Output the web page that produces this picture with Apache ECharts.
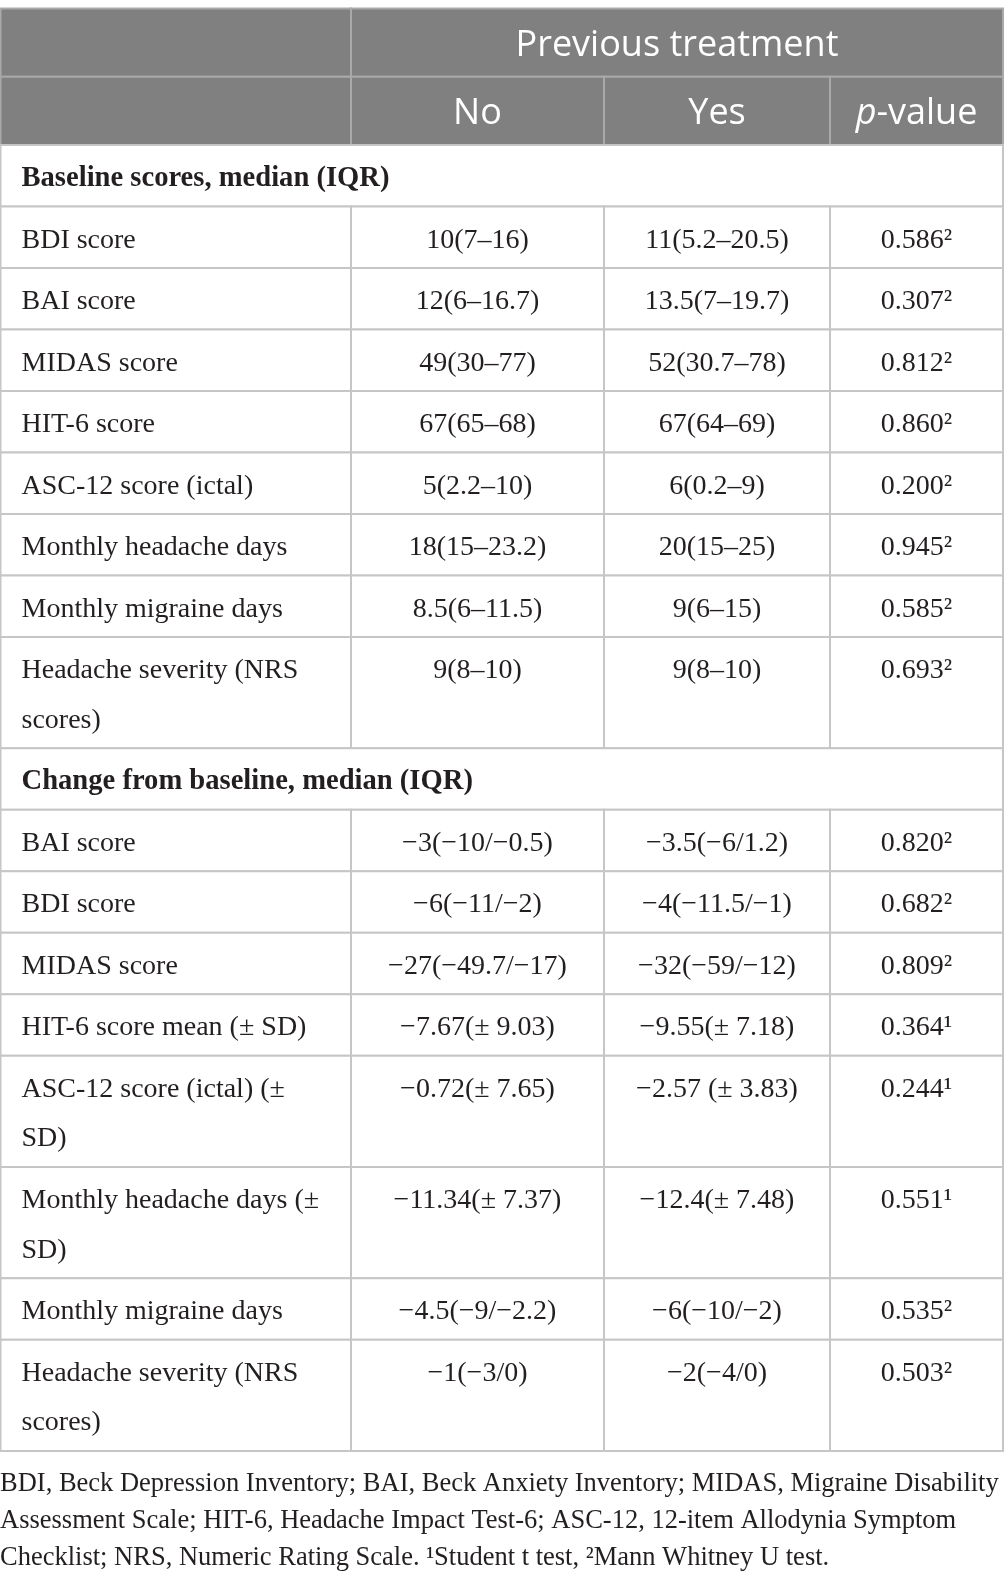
<!DOCTYPE html>
<html>
<head>
<meta charset="utf-8">
<script src="https://cdn.jsdelivr.net/npm/echarts@6/dist/echarts.min.js"></script>
<style>
  html, body { margin: 0; padding: 0; background: #fff; }
  #main { width: 1004px; height: 1585px; }
</style>
</head>
<body>
<div id="main"></div>
<script>
// table content
var groupHeader = 'Previous treatment';
var colHeaders = ['No', 'Yes', 'p-value'];
var sections = ['Baseline scores, median (IQR)', 'Change from baseline, median (IQR)'];

var baselineLabels = ['BDI score', 'BAI score', 'MIDAS score', 'HIT-6 score', 'ASC-12 score (ictal)',
  'Monthly headache days', 'Monthly migraine days', 'Headache severity (NRS\nscores)'];
var baselineNo = ['10(7–16)', '12(6–16.7)', '49(30–77)', '67(65–68)', '5(2.2–10)',
  '18(15–23.2)', '8.5(6–11.5)', '9(8–10)'];
var baselineYes = ['11(5.2–20.5)', '13.5(7–19.7)', '52(30.7–78)', '67(64–69)', '6(0.2–9)',
  '20(15–25)', '9(6–15)', '9(8–10)'];
var baselineP = ['0.586²', '0.307²', '0.812²', '0.860²', '0.200²', '0.945²', '0.585²', '0.693²'];

var changeLabels = ['BAI score', 'BDI score', 'MIDAS score', 'HIT-6 score mean (± SD)',
  'ASC-12 score (ictal) (±\nSD)', 'Monthly headache days (±\nSD)', 'Monthly migraine days',
  'Headache severity (NRS\nscores)'];
var changeNo = ['−3(−10/−0.5)', '−6(−11/−2)', '−27(−49.7/−17)', '−7.67(± 9.03)', '−0.72(± 7.65)',
  '−11.34(± 7.37)', '−4.5(−9/−2.2)', '−1(−3/0)'];
var changeYes = ['−3.5(−6/1.2)', '−4(−11.5/−1)', '−32(−59/−12)', '−9.55(± 7.18)', '−2.57 (± 3.83)',
  '−12.4(± 7.48)', '−6(−10/−2)', '−2(−4/0)'];
var changeP = ['0.820²', '0.682²', '0.809²', '0.364¹', '0.244¹', '0.551¹', '0.535²', '0.503²'];

var footnoteLines = [
  'BDI, Beck Depression Inventory; BAI, Beck Anxiety Inventory; MIDAS, Migraine Disability',
  'Assessment Scale; HIT-6, Headache Impact Test-6; ASC-12, 12-item Allodynia Symptom',
  'Checklist; NRS, Numeric Rating Scale. ¹Student t test, ²Mann Whitney U test.'
];
</script>
<script>
// layout (pixel units on hidden value axes)
var colEdges = [0.5, 351, 604, 830, 1003];
var tableTop = 8.5;
var headH = 68.2;
var rowH = 61.5;     // one text line
var rowH2 = 111.3;   // two text lines
var lineH = 49.5;
var padLeft = 21;

var serif = '"Liberation Serif", "Times New Roman", serif';
var sans = '"Open Sans", "Noto Sans", sans-serif';

var cells = [];
var y = tableTop;

// header rows
cells.push({x0: colEdges[0], x1: colEdges[1], y0: y, y1: y + headH, kind: 'head', text: ''});
cells.push({x0: colEdges[1], x1: colEdges[4], y0: y, y1: y + headH, kind: 'head', text: groupHeader});
y += headH;
cells.push({x0: colEdges[0], x1: colEdges[1], y0: y, y1: y + headH, kind: 'head', text: ''});
colHeaders.forEach(function (t, i) {
  cells.push({x0: colEdges[i + 1], x1: colEdges[i + 2], y0: y, y1: y + headH, kind: 'head', text: t});
});
y += headH;

function addBlock(title, labels, no, yes, p) {
  cells.push({x0: colEdges[0], x1: colEdges[4], y0: y, y1: y + rowH, kind: 'section', text: title});
  y += rowH;
  labels.forEach(function (lab, i) {
    var h = lab.indexOf('\n') >= 0 ? rowH2 : rowH;
    cells.push({x0: colEdges[0], x1: colEdges[1], y0: y, y1: y + h, kind: 'label', text: lab});
    cells.push({x0: colEdges[1], x1: colEdges[2], y0: y, y1: y + h, kind: 'value', text: no[i]});
    cells.push({x0: colEdges[2], x1: colEdges[3], y0: y, y1: y + h, kind: 'value', text: yes[i]});
    cells.push({x0: colEdges[3], x1: colEdges[4], y0: y, y1: y + h, kind: 'value', text: p[i]});
    y += h;
  });
}
addBlock(sections[0], baselineLabels, baselineNo, baselineYes, baselineP);
addBlock(sections[1], changeLabels, changeNo, changeYes, changeP);

var noteTop = y + 15;
cells.push({x0: 0, x1: 1004, y0: noteTop, y1: noteTop + 3 * 36.7, kind: 'note', text: footnoteLines.join('\n')});

var myChart = echarts.init(document.getElementById('main'));

function renderCell(params, api) {
  var c = cells[params.dataIndex];
  var p0 = api.coord([c.x0, c.y0]);
  var p1 = api.coord([c.x1, c.y1]);
  var w = p1[0] - p0[0], h = p1[1] - p0[1];
  var children = [];
  if (c.kind === 'note') {
    children.push({
      type: 'text',
      style: {
        text: c.text, x: p0[0], y: p0[1], align: 'left', verticalAlign: 'top',
        fill: '#231f20', fontFamily: serif, fontSize: 26.5, lineHeight: 36.7
      }
    });
    return {type: 'group', children: children};
  }
  var isHead = c.kind === 'head';
  children.push({
    type: 'rect',
    shape: {x: p0[0], y: p0[1], width: w, height: h},
    style: {fill: isHead ? '#808080' : '#ffffff', stroke: isHead ? '#a9a9a9' : '#c6c6c6', lineWidth: 2}
  });
  if (isHead) {
    var txt = c.text === 'p-value' ? '{i|p}-value' : c.text;
    children.push({
      type: 'text',
      style: {
        text: txt, x: p0[0] + w / 2, y: p0[1] + h / 2 + 3, align: 'center', verticalAlign: 'middle',
        fill: '#ffffff', fontFamily: sans, fontSize: 36,
        rich: {i: {fontStyle: 'italic', fontFamily: sans, fontSize: 36, fill: '#ffffff'}}
      }
    });
  } else {
    var left = c.kind === 'label' || c.kind === 'section';
    var isSection = c.kind === 'section';
    children.push({
      type: 'text',
      style: {
        text: c.text,
        x: left ? p0[0] + padLeft : p0[0] + w / 2,
        y: p0[1] + (rowH - lineH) / 2 + 3,
        align: left ? 'left' : 'center', verticalAlign: 'top',
        fill: '#231f20', fontFamily: serif, fontSize: isSection ? 28.6 : 28, lineHeight: lineH,
        fontWeight: isSection ? 'bold' : 'normal'
      }
    });
  }
  return {type: 'group', children: children};
}

var option = {
  backgroundColor: '#ffffff',
  animation: false,
  grid: {left: 0, right: 0, top: 0, bottom: 0},
  xAxis: {type: 'value', min: 0, max: 1004, show: false},
  yAxis: {type: 'value', min: 0, max: 1585, inverse: true, show: false},
  series: [{
    type: 'custom',
    silent: true,
    clip: false,
    renderItem: renderCell,
    data: cells.map(function (c) { return [c.x0, c.y0]; })
  }]
};
myChart.setOption(option);
</script>
</body>
</html>
